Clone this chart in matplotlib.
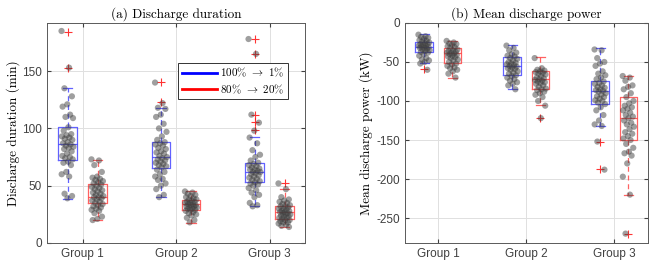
"""
Boxplots of discharge duration and mean discharge power per group
"""
import numpy as np
import matplotlib
matplotlib.use("Agg")
import matplotlib.pyplot as plt
from matplotlib.lines import Line2D

plt.rcParams['mathtext.fontset'] = 'cm'
plt.rcParams['axes.unicode_minus'] = False
plt.rcParams['font.family'] = ['Liberation Sans', 'DejaVu Sans']

groups = ['Group 1', 'Group 2', 'Group 3']

# (a) discharge duration (min), individual samples
dur_full = [
    [185, 153, 135, 128, 121, 119, 112, 110, 109, 101, 98, 95, 94, 93, 92, 91, 90, 88, 87,
     86, 85, 84, 83, 82, 80, 78, 76, 75, 74, 73, 71, 70, 68, 62, 60, 58, 43, 41, 39],
    [140, 122, 118, 117, 112, 110, 104, 100, 97, 93, 90, 88, 87, 86, 85, 83, 82, 80, 79,
     78, 76, 75, 74, 73, 72, 71, 70, 69, 68, 67, 66, 64, 62, 60, 58, 56, 55, 52, 50, 47, 42, 40],
    [178, 165, 112, 105, 98, 92, 87, 81, 77, 75, 72, 70, 69, 68, 67, 66, 65, 64, 64, 63,
     62, 62, 61, 60, 59, 58, 57, 56, 55, 54, 53, 52, 51, 50, 48, 46, 44, 42, 40, 35, 33, 32],
]
dur_part = [
    [73, 72, 68, 62, 58, 57, 56, 55, 54, 53, 52, 51, 50, 49, 48, 47, 46, 45, 44, 43, 42,
     41, 40, 40, 39, 38, 37, 36, 35, 34, 33, 32, 31, 30, 29, 28, 26, 23, 21, 20],
    [45, 44, 43, 42, 41, 40, 39, 38, 38, 37, 36, 36, 35, 35, 34, 34, 33, 33, 32, 32, 31,
     31, 30, 30, 29, 29, 28, 27, 26, 25, 24, 22, 20, 18],
    [52, 47, 40, 38, 37, 36, 35, 34, 33, 32, 32, 31, 30, 30, 29, 28, 28, 27, 27, 26, 26,
     25, 25, 24, 23, 23, 22, 22, 21, 20, 20, 19, 18, 18, 17, 16, 15, 14],
]

# (b) mean discharge power (kW), individual samples
pow_full = [
    [-15, -17, -18, -19, -20, -22, -23, -24, -25, -26, -27, -27, -28, -29, -30, -30, -31,
     -32, -32, -33, -34, -35, -36, -37, -38, -40, -42, -45, -47, -48, -50, -52, -60],
    [-29, -32, -35, -38, -40, -42, -43, -45, -46, -48, -50, -51, -52, -53, -54, -55, -56,
     -57, -58, -59, -60, -62, -64, -65, -67, -68, -70, -72, -74, -76, -78, -80, -85],
    [-34, -35, -45, -50, -52, -55, -62, -65, -67, -70, -72, -75, -77, -78, -80, -82, -83,
     -85, -86, -87, -88, -90, -92, -94, -95, -97, -99, -100, -102, -104, -108, -112, -118,
     -125, -130, -132, -152, -188],
]
pow_part = [
    [-23, -25, -26, -27, -28, -30, -31, -32, -34, -35, -36, -37, -38, -38, -39, -40, -41,
     -42, -43, -44, -45, -47, -48, -50, -52, -53, -55, -57, -58, -60, -62, -65, -70],
    [-45, -58, -60, -61, -62, -63, -64, -65, -66, -68, -70, -71, -72, -73, -74, -75, -76,
     -77, -78, -80, -82, -84, -85, -86, -88, -90, -92, -95, -100, -106, -122],
    [-68, -70, -74, -80, -82, -85, -90, -95, -100, -103, -106, -108, -110, -112, -115, -118,
     -120, -122, -125, -128, -130, -133, -136, -140, -142, -145, -148, -150, -155, -160,
     -165, -167, -170, -180, -197, -220, -270],
]

# box statistics: q1, median, q3, lower whisker, upper whisker, outliers
dur_full_q1 = [72, 65.4, 52.9]
dur_full_med = [86.6, 74.7, 62.2]
dur_full_q3 = [101, 88.1, 69.8]
dur_full_lo = [38.7, 40.1, 32.3]
dur_full_hi = [134.9, 118, 92.2]
dur_full_out = [[184.3, 152.9], [140.1, 122.7], [178, 164.5, 111.9, 105.2, 98.3]]

dur_part_q1 = [34.9, 29.1, 20.6]
dur_part_med = [40.1, 33.7, 26.7]
dur_part_q3 = [51.2, 37.2, 32.3]
dur_part_lo = [19.8, 17.7, 14]
dur_part_hi = [72.7, 45, 46.8]
dur_part_out = [[], [], [52]]

pow_full_q1 = [-37.4, -67, -104]
pow_full_med = [-31.4, -54.6, -87.2]
pow_full_q3 = [-24.5, -43.8, -74.7]
pow_full_lo = [-51.5, -85, -132.3]
pow_full_hi = [-14.2, -28.8, -32.6]
pow_full_out = [[-59.3], [], [-152, -187.7]]

pow_part_q1 = [-51.5, -85, -149.5]
pow_part_med = [-38.7, -72.2, -122.4]
pow_part_q3 = [-32.2, -61.4, -94.5]
pow_part_lo = [-70, -105.7, -220]
pow_part_hi = [-23.2, -43.8, -67.4]
pow_part_out = [[], [-122.4], [-270.6]]

BLUE = '#3b3bff'
RED = '#ff3b3b'
OFFSET = 0.16


def make_stats(q1, med, q3, lo, hi, out):
    return [dict(q1=a, med=b, q3=c, whislo=d, whishi=e, fliers=f)
            for a, b, c, d, e, f in zip(q1, med, q3, lo, hi, out)]


def draw_boxes(ax, stats, pos, color):
    ax.bxp(stats, positions=pos, widths=0.2, showfliers=True,
           boxprops=dict(color=color, lw=0.9, alpha=0.8),
           medianprops=dict(color=color, lw=0.9, alpha=0.8),
           whiskerprops=dict(color=color, lw=0.9, ls=(0, (4, 3)), alpha=0.8),
           capprops=dict(color=color, lw=0.9, alpha=0.8),
           capwidths=0.1,
           flierprops=dict(marker='+', markeredgecolor='red', markersize=6,
                           markeredgewidth=0.8, alpha=0.8))


def draw_points(ax, samples, pos):
    for p, vals in zip(pos, samples):
        n = len(vals)
        # spread points sideways so they don't sit on top of each other
        jitter = ((np.arange(n) * 0.618) % 1 - 0.5) * 0.13
        ax.scatter(p + jitter, vals, s=20, color='0.25', alpha=0.5,
                   edgecolors='none', zorder=5)


def style_axes(ax, title, ylabel):
    ax.set_title(title, fontfamily='cmr10', fontsize=9.5, pad=4)
    ax.set_ylabel(ylabel, fontfamily='cmr10', fontsize=9.5, labelpad=2)
    ax.set_xticks([1, 2, 3])
    ax.set_xticklabels(groups)
    ax.set_xlim(0.62, 3.38)
    ax.grid(True, color='0.88', lw=0.7)
    ax.set_axisbelow(True)
    ax.tick_params(direction='in', top=True, right=True, labelsize=8.5,
                   colors='0.25', length=3)
    for sp in ax.spines.values():
        sp.set_color('0.35')
        sp.set_linewidth(0.7)


fig = plt.figure(figsize=(6.55, 2.68), dpi=100)
ax1 = fig.add_axes([0.0718, 0.0933, 0.394, 0.821])
ax2 = fig.add_axes([0.618, 0.0933, 0.371, 0.821])

x = np.arange(1, 4)
pos_full = x - OFFSET
pos_part = x + OFFSET

# (a) discharge duration
draw_boxes(ax1, make_stats(dur_full_q1, dur_full_med, dur_full_q3, dur_full_lo,
                           dur_full_hi, dur_full_out), pos_full, BLUE)
draw_boxes(ax1, make_stats(dur_part_q1, dur_part_med, dur_part_q3, dur_part_lo,
                           dur_part_hi, dur_part_out), pos_part, RED)
draw_points(ax1, dur_full, pos_full)
draw_points(ax1, dur_part, pos_part)
style_axes(ax1, '(a) Discharge duration', 'Discharge duration (min)')
ax1.set_ylim(0, 192)
ax1.set_yticks([0, 50, 100, 150])

handles = [Line2D([], [], color='blue', lw=2), Line2D([], [], color='red', lw=2)]
leg = ax1.legend(handles, [r'100% $\rightarrow$ 1%', r'80% $\rightarrow$ 20%'],
                 loc='upper right', bbox_to_anchor=(0.935, 0.82),
                 fancybox=False, framealpha=1, edgecolor='0.2',
                 prop=dict(family='cmr10', size=8), handlelength=3.2,
                 borderpad=0.3, labelspacing=0.3, handletextpad=0.3,
                 borderaxespad=0)
leg.get_frame().set_linewidth(0.7)
leg.set_zorder(10)

# (b) mean discharge power
draw_boxes(ax2, make_stats(pow_full_q1, pow_full_med, pow_full_q3, pow_full_lo,
                           pow_full_hi, pow_full_out), pos_full, BLUE)
draw_boxes(ax2, make_stats(pow_part_q1, pow_part_med, pow_part_q3, pow_part_lo,
                           pow_part_hi, pow_part_out), pos_part, RED)
draw_points(ax2, pow_full, pos_full)
draw_points(ax2, pow_part, pos_part)
style_axes(ax2, '(b) Mean discharge power', 'Mean discharge power (kW)')
ax2.set_ylim(-282, 0)
ax2.set_yticks([-250, -200, -150, -100, -50, 0])

fig.savefig('out.png', dpi=100)
